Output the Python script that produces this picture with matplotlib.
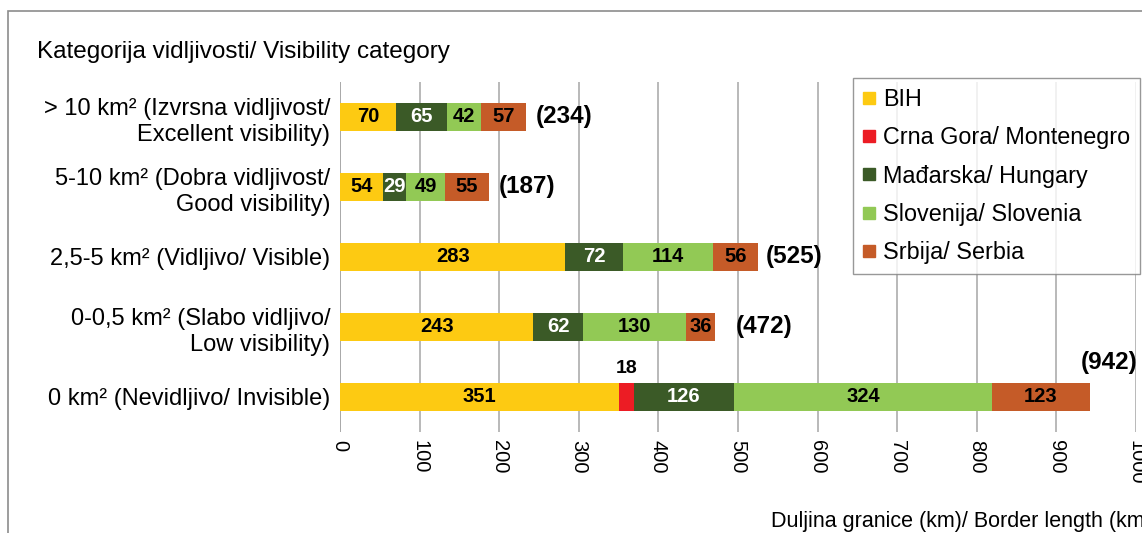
import matplotlib
matplotlib.use("Agg")
import matplotlib.pyplot as plt
from matplotlib.lines import Line2D
from matplotlib.patches import Rectangle
from matplotlib import font_manager

# --- data -------------------------------------------------------------
categories = [
    "> 10 km\u00b2 (Izvrsna vidljivost/\nExcellent visibility)",
    "5-10 km\u00b2 (Dobra vidljivost/\nGood visibility)",
    "2,5-5 km\u00b2 (Vidljivo/ Visible)",
    "0-0,5 km\u00b2 (Slabo vidljivo/\nLow visibility)",
    "0 km\u00b2 (Nevidljivo/ Invisible)",
]
series_names = ["BIH", "Crna Gora/ Montenegro", "Ma\u0111arska/ Hungary",
                "Slovenija/ Slovenia", "Srbija/ Serbia"]
bih        = [70, 54, 283, 243, 351]
montenegro = [0, 0, 0, 0, 18]
hungary    = [65, 29, 72, 62, 126]
slovenia   = [42, 49, 114, 130, 324]
serbia     = [57, 55, 56, 36, 123]
totals     = [234, 187, 525, 472, 942]
x_ticks    = [0, 100, 200, 300, 400, 500, 600, 700, 800, 900, 1000]

colors = ["#FDCA12", "#EC1C24", "#3B5A27", "#92C955", "#C55B28"]
label_colors = ["black", "black", "white", "black", "black"]
total_gap = [12, 12, 10, 26, 0]

names = {f.name for f in font_manager.fontManager.ttflist}
base = "Liberation Sans" if "Liberation Sans" in names else "DejaVu Sans"
plt.rcParams["font.family"] = [base, "DejaVu Sans"]

W, H = 1142, 533
fig = plt.figure(figsize=(W / 100, H / 100), dpi=100)
ax = fig.add_axes([340 / W, 1 - 432 / H, (1136 - 340) / W, 350 / H])

# figure frame
fig.patches.append(Rectangle((8 / W, -0.1), 1.2, (1 - 11 / H) + 0.1,
                             transform=fig.transFigure, fill=False,
                             edgecolor="#8C8C8C", linewidth=1.2, zorder=0))

ypos = list(range(len(categories) - 1, -1, -1))
series = [bih, montenegro, hungary, slovenia, serbia]
left = [0] * len(categories)
for vals, col, tcol, name in zip(series, colors, label_colors, series_names):
    ax.barh(ypos, vals, left=left, height=0.4, color=col, zorder=3, label=name)
    for i, v in enumerate(vals):
        if v == 0:
            continue
        cx = left[i] + v / 2
        if v < 25:
            ax.text(cx, ypos[i] + 0.28, str(v), ha="center", va="bottom",
                    fontsize=14, fontweight="bold", color="black", zorder=4)
        else:
            ax.text(cx, ypos[i], str(v), ha="center", va="center",
                    fontsize=14.5, fontweight="bold", color=tcol, zorder=4)
    left = [a + b for a, b in zip(left, vals)]

# totals
for i, t in enumerate(totals):
    end = left[i]
    if i == len(categories) - 1:
        ax.text(end + 60, ypos[i] + 0.33, f"({t})", ha="right", va="bottom",
                fontsize=17.5, fontweight="bold")
    else:
        ax.text(end + total_gap[i], ypos[i], f"({t})", ha="left", va="center",
                fontsize=17.5, fontweight="bold")

ax.set_xlim(0, 1000)
ax.set_ylim(-0.5, len(categories) - 0.5)
ax.set_xticks(x_ticks)
ax.set_xticklabels([str(v) for v in x_ticks], rotation=-90, fontsize=14.5)
ax.set_yticks(ypos)
ax.set_yticklabels(categories, fontsize=17, ha="right",
                   multialignment="right", linespacing=1.25)
ax.tick_params(axis="x", length=0, pad=6)
ax.tick_params(axis="y", length=0, pad=7)
ax.grid(axis="x", color="#A6A6A6", linewidth=1.1, zorder=0)
ax.set_axisbelow(True)
for s in ax.spines.values():
    s.set_visible(False)
ax.axvline(0, color="#A6A6A6", linewidth=1.1, zorder=1)

fig.text(37 / W, 1 - 52 / H, "Kategorija vidljivosti/ Visibility category",
         fontsize=17.5, ha="left", va="center")
fig.text(771 / W, 1 - 521 / H, "Duljina granice (km)/ Border length (km)",
         fontsize=15.5, ha="left", va="center")

handles = [Line2D([], [], marker="s", linestyle="none", markersize=9,
                  markerfacecolor=c, markeredgecolor=c) for c in colors]
leg = fig.legend(handles, series_names, loc="upper left",
                 bbox_to_anchor=(853 / W, 1 - 78 / H), fontsize=16.8,
                 frameon=True, fancybox=False, handlelength=0.55,
                 handletextpad=0.3, labelspacing=0.66, borderpad=0.42,
                 borderaxespad=0)
leg.get_frame().set_edgecolor("#7F7F7F")
leg.get_frame().set_linewidth(1.0)

fig.savefig("out.png", dpi=100)
